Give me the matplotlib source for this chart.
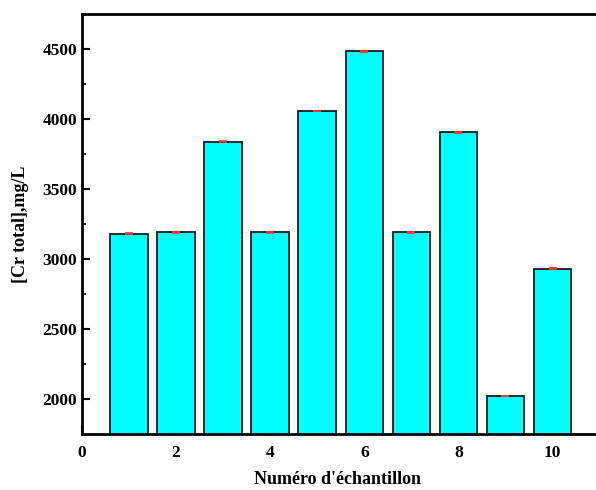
import matplotlib
matplotlib.use('Agg')
import matplotlib.pyplot as plt
import matplotlib.ticker as ticker

# données
samples = [1, 2, 3, 4, 5, 6, 7, 8, 9, 10]
cr_total = [3181, 3190, 3838, 3190, 4059, 4483, 3190, 3904, 2021, 2931]
cr_err = [2, 2, 2, 2, 2, 2, 2, 2, 2, 2]
x_ticks = [0, 2, 4, 6, 8, 10]
y_ticks = [2000, 2500, 3000, 3500, 4000, 4500]

plt.rcParams['font.family'] = ['Liberation Serif', 'DejaVu Serif']
plt.rcParams['font.weight'] = 'bold'

fig = plt.figure(figsize=(5.96, 4.90), dpi=100)
# le cadre dépasse à droite de l'image, comme dans l'original
ax = fig.add_axes([0.1376, 0.1143, 0.9, 0.857])

ax.bar(samples, cr_total, width=0.8, color="#00FFFF", edgecolor="#1a1a1a",
       linewidth=1.3, zorder=2)
ax.errorbar(samples, cr_total, yerr=cr_err, fmt='none', ecolor="#ff3030",
            elinewidth=1.2, capsize=3, capthick=1.2, zorder=3)

ax.set_xlim(0, 11.4)
ax.set_ylim(1750, 4750)
ax.set_xticks(x_ticks)
ax.set_yticks(y_ticks)
ax.yaxis.set_minor_locator(ticker.MultipleLocator(250))
ax.xaxis.set_minor_locator(ticker.MultipleLocator(1))
ax.tick_params(axis='both', which='major', direction='in', length=6, width=1.5,
               labelsize=12.5)
ax.tick_params(axis='both', which='minor', direction='in', length=3, width=1.2)
ax.tick_params(axis='x', pad=8)
ax.set_axisbelow(True)

for s in ax.spines.values():
    s.set_linewidth(2)
ax.spines["right"].set_visible(False)

ax.set_xlabel("Numéro d'échantillon", fontsize=13, fontweight='bold')
ax.xaxis.set_label_coords(0.476, -0.088)
ax.set_ylabel("[Cr total],mg/L", fontsize=13, fontweight='bold', labelpad=10)

fig.savefig("out.png", dpi=100)
plt.close(fig)
